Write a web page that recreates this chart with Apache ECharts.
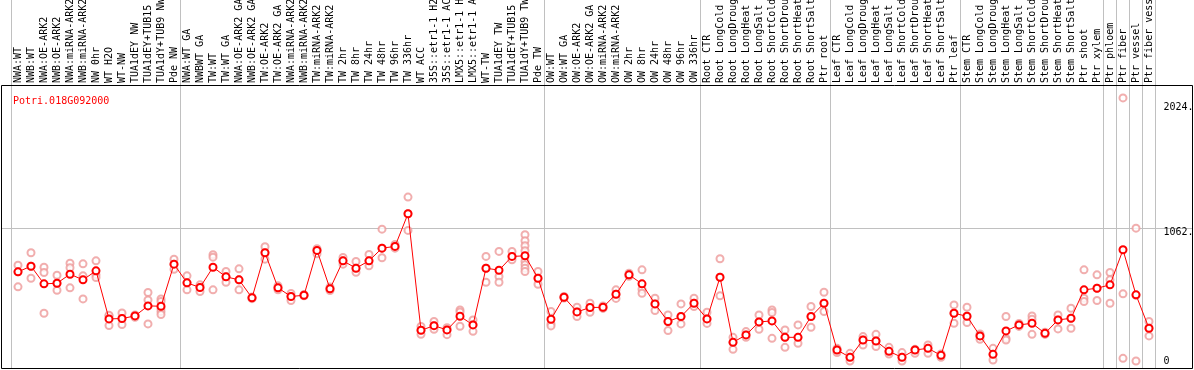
<!DOCTYPE html>
<html>
<head>
<meta charset="utf-8">
<script src="https://cdn.jsdelivr.net/npm/echarts@6/dist/echarts.min.js"></script>
<style>
html, body { margin: 0; padding: 0; background: #fff; }
#main { width: 1194px; height: 370px; }
</style>
</head>
<body>
<div id="main"></div>
<script>
var categories = [
    'NWA:WT', 'NWB:WT', 'NWA:OE-ARK2', 'NWB:OE-ARK2', 'NWA:miRNA-ARK2', 'NWB:miRNA-ARK2',
    'NW 0hr', 'WT H2O', 'WT-NW', 'TUA1dEY NW', 'TUA1dEY+TUB15 NW', 'TUA1dY+TUB9 NW', 'Pde NW',
    'NWA:WT GA', 'NWBWT GA', 'TW:WT', 'TW:WT GA', 'NWA:OE-ARK2 GA', 'NWB:OE-ARK2 GA',
    'TW:OE-ARK2', 'TW:OE-ARK2 GA', 'NWA:miRNA-ARK2 GA', 'NWB:miRNA-ARK2 GA', 'TW:miRNA-ARK2',
    'TW:miRNA-ARK2 GA', 'TW 2hr', 'TW 8hr', 'TW 24hr', 'TW 48hr', 'TW 96hr', 'TW 336hr',
    'WT ACC', '35S::etr1-1 H2O', '35S::etr1-1 ACC', 'LMX5::etr1-1 H2O', 'LMX5::etr1-1 ACC',
    'WT-TW', 'TUA1dEY TW', 'TUA1dEY+TUB15 TW', 'TUA1dY+TUB9 TW', 'Pde TW',
    'OW:WT', 'OW:WT GA', 'OW:OE-ARK2', 'OW:OE-ARK2 GA', 'OW:miRNA-ARK2', 'OW:miRNA-ARK2 GA',
    'OW 2hr', 'OW 8hr', 'OW 24hr', 'OW 48hr', 'OW 96hr', 'OW 336hr',
    'Root CTR', 'Root LongCold', 'Root LongDrought', 'Root LongHeat', 'Root LongSalt',
    'Root ShortCold', 'Root ShortDrought', 'Root ShortHeat', 'Root ShortSalt', 'Ptr root',
    'Leaf CTR', 'Leaf LongCold', 'Leaf LongDrought', 'Leaf LongHeat', 'Leaf LongSalt',
    'Leaf ShortCold', 'Leaf ShortDrought', 'Leaf ShortHeat', 'Leaf ShortSalt', 'Ptr leaf',
    'Stem CTR', 'Stem LongCold', 'Stem LongDrought', 'Stem LongHeat', 'Stem LongSalt',
    'Stem ShortCold', 'Stem ShortDrought', 'Stem ShortHeat', 'Stem ShortSalt', 'Ptr shoot',
    'Ptr xylem', 'Ptr phloem', 'Ptr fiber', 'Ptr vessel', 'Ptr fiber vessel'
];

var means = [
    712, 757, 616, 621, 693, 648, 720, 336, 339, 360, 440, 437, 773,
    624, 587, 749, 672, 648, 504, 864, 584, 515, 525, 883, 576, 800, 741, 800, 901, 915, 1176,
    245, 282, 248, 357, 288, 741, 725, 835, 840, 661,
    333, 509, 392, 427, 429, 533, 688, 616, 456, 315, 355, 461,
    336, 669, 149, 208, 312, 320, 189, 189, 355, 461,
    88, 29, 168, 160, 77, 29, 88, 101, 45, 381,
    357, 200, 53, 240, 288, 301, 221, 328, 341, 568,
    581, 608, 888, 528, 261
];

var replicates = [
    [765, 712, 592], [864, 757, 661], [749, 707, 381], [685, 621, 565], [781, 745, 584],
    [776, 680, 496], [800, 688, 667], [360, 365, 283], [384, 340, 291], [368, 360, 349],
    [547, 488, 296], [496, 475, 421, 395, 371], [813, 773, 733],
    [680, 624, 568], [608, 587, 555], [848, 829, 568], [715, 672, 629], [736, 648, 568],
    [510, 504, 498], [912, 864, 813], [600, 584, 568], [539, 515, 483], [530, 525, 520],
    [896, 883, 856], [590, 576, 563], [827, 800, 773], [795, 741, 709], [851, 800, 760],
    [1053, 901, 824], [930, 915, 901], [1309, 1176, 1043],
    [275, 245, 213], [315, 282, 253], [265, 248, 210], [408, 392, 277], [328, 290, 237],
    [835, 741, 629], [875, 675, 629], [875, 835, 808], [1008, 960, 920, 880, 795, 768, 741, 715],
    [715, 661, 613],
    [395, 296, 280], [515, 509, 503], [429, 392, 355], [461, 427, 389], [440, 429, 420],
    [568, 533, 500], [701, 688, 676], [728, 573, 541], [501, 456, 403], [368, 315, 243],
    [456, 355, 296], [501, 461, 435],
    [389, 336, 300], [816, 669, 520], [189, 149, 93], [235, 208, 189], [368, 312, 253],
    [408, 387, 181], [248, 189, 109], [288, 189, 141], [435, 355, 269], [549, 461, 395],
    [101, 88, 67], [61, 29, 0], [195, 168, 128], [213, 160, 115], [109, 77, 56],
    [67, 29, 0], [93, 88, 61], [128, 101, 61], [56, 45, 29], [448, 381, 301],
    [429, 357, 307], [216, 200, 173], [101, 53, 8], [355, 181, 168], [300, 288, 276],
    [360, 333, 213], [230, 221, 212], [368, 328, 256], [421, 341, 261], [728, 501, 475],
    [688, 581, 483], [707, 648, 461], [2101, 536, 21], [1061, 525, 0], [315, 261, 200]
];

var yTicks = [0, 1062, 2024];
var gridValue = 1062;
// first column of each group (grey separator drawn on its left edge)
var groupStarts = [0, 13, 41, 53, 63, 73, 84, 85, 86, 87, 88];

var repPoints = [];
replicates.forEach(function (vals, i) {
    vals.forEach(function (v) { repPoints.push([i, v]); });
});

var monoFont = 'DejaVu Sans Mono';
var sepLine = {
    show: true,
    interval: function (i) { return groupStarts.indexOf(i) >= 0; },
    lineStyle: { color: '#c0c0c0', width: 1 }
};

var myChart = echarts.init(document.getElementById('main'));
option = {
    animation: false,
    title: {
        text: 'Potri.018G092000',
        left: 8,
        top: 91,
        textStyle: { color: '#ff0000', fontFamily: monoFont, fontSize: 10, fontWeight: 'normal' }
    },
    grid: [
        { left: 11.5, right: 38.5, top: 0, height: 85, outerBoundsMode: 'none', containLabel: false },
        { left: 11.5, right: 38.5, top: 85, bottom: 1, outerBoundsMode: 'none', containLabel: false }
    ],
    xAxis: [
        {
            type: 'category', gridIndex: 0, data: categories,
            axisLine: { show: false }, axisTick: { show: false }, axisLabel: { show: false },
            splitLine: sepLine
        },
        {
            type: 'category', gridIndex: 1, position: 'top', data: categories,
            axisLine: { show: false }, axisTick: { show: false },
            axisLabel: { rotate: 90, interval: 0, margin: 2, color: '#000', fontFamily: monoFont, fontSize: 10 },
            splitLine: sepLine
        }
    ],
    yAxis: [
        { type: 'value', gridIndex: 0, show: false },
        {
            type: 'value', gridIndex: 1, position: 'right', min: -64, max: 2204,
            axisLine: { show: false }, axisTick: { show: false }, splitLine: { show: false },
            axisLabel: {
                customValues: yTicks,
                margin: 8,
                color: '#000',
                fontFamily: monoFont,
                fontSize: 10,
                formatter: function (v) {
                    if (v === 0) return '0';
                    if (v === gridValue) return '{low|' + v + '.}';
                    return v + '.';
                },
                rich: {
                    low: { padding: [8, 0, 0, 0], color: '#000', fontFamily: monoFont, fontSize: 10 }
                }
            }
        }
    ],
    series: [
        {
            type: 'scatter', xAxisIndex: 1, yAxisIndex: 1,
            symbol: 'emptyCircle', symbolSize: 7,
            itemStyle: { color: '#ee9a9a', borderColor: '#ee9a9a', borderWidth: 1 },
            data: repPoints,
            z: 3
        },
        {
            type: 'line', xAxisIndex: 1, yAxisIndex: 1,
            symbol: 'emptyCircle', symbolSize: 7, showAllSymbol: true,
            lineStyle: { color: '#ff0000', width: 1 },
            itemStyle: { color: '#ff0000', borderColor: '#ff0000', borderWidth: 2 },
            data: means,
            z: 4
        }
    ]
};
myChart.setOption(option);

// frame and the horizontal reference line, placed through the value axis
var gy = myChart.convertToPixel({ yAxisIndex: 1 }, gridValue);
myChart.setOption({
    graphic: [
        {
            type: 'line', z: 0, silent: true,
            shape: { x1: 1, y1: Math.round(gy) + 0.5, x2: 1193, y2: Math.round(gy) + 0.5 },
            style: { stroke: '#c0c0c0', lineWidth: 1 }
        },
        {
            type: 'rect', z: 10, silent: true,
            shape: { x: 1.5, y: 85.5, width: 1191, height: 283 },
            style: { fill: null, stroke: '#000', lineWidth: 1 }
        }
    ]
});
</script>
</body>
</html>
